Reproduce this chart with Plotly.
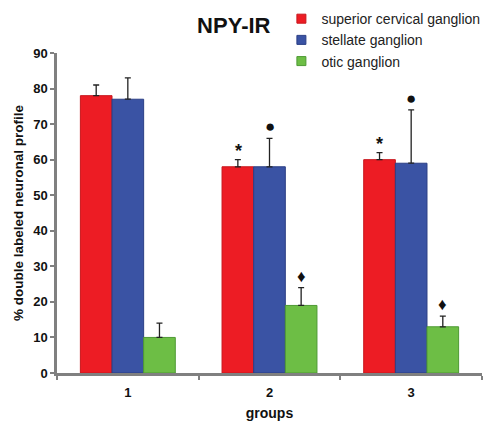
import plotly.graph_objects as go

groups = ["1", "2", "3"]
series_names = ["superior cervical ganglion", "stellate ganglion", "otic ganglion"]
scg = [78, 58, 60]
scg_err = [3, 2, 2]
stg = [77, 58, 59]
stg_err = [6, 8, 15]
otic = [10, 19, 13]
otic_err = [4, 5, 3]
scg_marks = ["", "*", "*"]
stg_marks = ["", "●", "●"]
otic_marks = ["", "♦", "♦"]

colors = ["#ED1C24", "#3A53A4", "#6DBE45"]
lines = ["#C8161C", "#2B3F85", "#4E9A34"]

fig = go.Figure()
for name, vals, errs, c, lc in zip(series_names, [scg, stg, otic], [scg_err, stg_err, otic_err], colors, lines):
    fig.add_trace(go.Bar(
        x=groups, y=vals, name=name, showlegend=False,
        marker=dict(color=c, line=dict(color=lc, width=1)),
        error_y=dict(type="data", array=errs, symmetric=False, arrayminus=[0]*len(errs),
                     color="#222222", thickness=1.3, width=3),
    ))
# legend entries with small square swatches
for name, c, lc in zip(series_names, colors, lines):
    fig.add_trace(go.Scatter(
        x=[None], y=[None], mode="markers", name=name,
        marker=dict(symbol="square", size=9, color=c, line=dict(color=lc, width=1)),
    ))

BARPX = 31.5
mark_style = {"*": (18, -3, True), "●": (17, 0, False), "♦": (17, 0, False)}
for vals, errs, marks, shift in [(scg, scg_err, scg_marks, -BARPX), (stg, stg_err, stg_marks, 0), (otic, otic_err, otic_marks, BARPX)]:
    for i, (v, e, m) in enumerate(zip(vals, errs, marks)):
        if not m:
            continue
        size, ys, bold = mark_style[m]
        fig.add_annotation(x=i, y=v + e, text=("<b>%s</b>" % m) if bold else m,
                           showarrow=False, xshift=shift,
                           yanchor="bottom", yshift=ys,
                           font=dict(size=size, color="#111111",
                                     family="Liberation Sans, Arial"))

fig.update_layout(
    width=500, height=430,
    margin=dict(l=49, r=26, t=45, b=65, autoexpand=False),
    plot_bgcolor="white", paper_bgcolor="white",
    barmode="group", bargap=0.33, bargroupgap=0,
    font=dict(family="Liberation Sans, Arial", color="#111111"),
    title=dict(text="<b>NPY-IR</b>", x=0.416, xref="paper", xanchor="center",
               y=0.960, yanchor="middle", font=dict(size=22, color="#111111")),
    legend=dict(x=0.528, y=1.156, xanchor="left", yanchor="top",
                font=dict(size=14, color="#222222"), itemwidth=30,
                tracegroupgap=0, bgcolor="rgba(0,0,0,0)"),
    showlegend=True,
)
fig.update_xaxes(
    type="category", range=[-0.5, 2.5], tickson="boundaries",
    showline=True, linecolor="#808080", linewidth=2.5,
    ticks="outside", ticklen=4, tickcolor="#808080", tickwidth=2,
    tickfont=dict(size=13), tickprefix="<b>", ticksuffix="</b>",
    ticklabelstandoff=6,
    title=dict(text="<b>groups</b>", font=dict(size=14), standoff=9),
    showgrid=False, zeroline=False,
)
fig.update_yaxes(
    range=[0, 90], dtick=10,
    showline=True, linecolor="#808080", linewidth=2.5,
    ticks="outside", ticklen=4, tickcolor="#808080", tickwidth=2,
    tickfont=dict(size=13), tickprefix="<b>", ticksuffix="</b>",
    title=dict(text="<b>% double labeled neuronal profile</b>", font=dict(size=13.5), standoff=7),
    showgrid=False, zeroline=False,
)
fig.write_html("out.html")
